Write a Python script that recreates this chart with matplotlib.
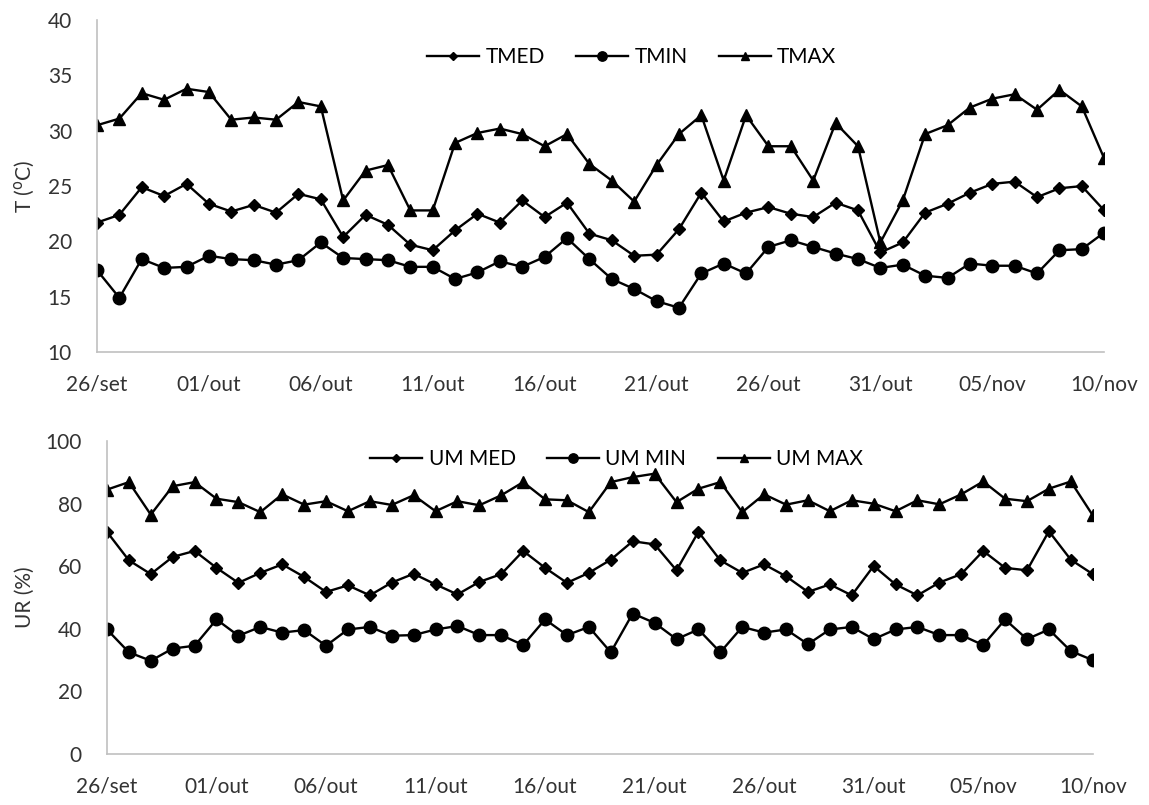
import numpy as np
import matplotlib
matplotlib.use("Agg")
import matplotlib.pyplot as plt

plt.rcParams['font.family'] = ['Lato', 'DejaVu Sans']

# 26/set .. 10/nov, one value per day
days = np.arange(46)
tick_pos = [0, 5, 10, 15, 20, 25, 30, 35, 40, 45]
tick_labels = ['26/set', '01/out', '06/out', '11/out', '16/out',
               '21/out', '26/out', '31/out', '05/nov', '10/nov']

tmed = [21.7, 22.4, 24.9, 24.1, 25.2, 23.4, 22.7, 23.3, 22.6, 24.3,
        23.8, 20.4, 22.4, 21.5, 19.7, 19.2, 21.0, 22.5, 21.7, 23.7,
        22.2, 23.5, 20.7, 20.1, 18.7, 18.8, 21.1, 24.4, 21.8, 22.6,
        23.1, 22.5, 22.2, 23.5, 22.8, 19.0, 19.9, 22.6, 23.4, 24.4,
        25.2, 25.4, 24.0, 24.8, 25.0, 22.8]
tmin = [17.4, 14.9, 18.4, 17.6, 17.7, 18.7, 18.4, 18.3, 17.9, 18.3,
        19.9, 18.5, 18.4, 18.3, 17.7, 17.7, 16.6, 17.2, 18.2, 17.7,
        18.6, 20.3, 18.4, 16.6, 15.7, 14.6, 14.0, 17.1, 18.0, 17.1,
        19.5, 20.1, 19.5, 18.9, 18.4, 17.6, 17.9, 16.9, 16.7, 18.0,
        17.8, 17.8, 17.1, 19.2, 19.3, 20.8]
tmax = [30.5, 31.1, 33.4, 32.8, 33.8, 33.5, 31.0, 31.2, 31.0, 32.6,
        32.2, 23.7, 26.4, 26.9, 22.8, 22.8, 28.9, 29.8, 30.2, 29.7,
        28.6, 29.7, 27.0, 25.5, 23.6, 26.9, 29.7, 31.4, 25.5, 31.4,
        28.6, 28.6, 25.5, 30.7, 28.6, 19.9, 23.7, 29.7, 30.5, 32.1,
        32.9, 33.3, 31.9, 33.7, 32.2, 27.5]

um_med = [71.0, 61.9, 57.5, 63.0, 64.9, 59.5, 54.7, 57.9, 60.6, 56.6,
          51.8, 53.9, 50.7, 54.8, 57.6, 54.2, 51.0, 55.0, 57.5, 64.9,
          59.5, 54.7, 57.9, 62.1, 68.0, 67.0, 58.7, 71.0, 61.9, 57.9,
          60.6, 56.8, 51.8, 54.2, 50.7, 60.1, 54.2, 50.7, 54.8, 57.5,
          64.9, 59.5, 58.7, 71.2, 62.1, 57.5]
um_min = [39.8, 32.5, 29.8, 33.7, 34.6, 43.0, 37.8, 40.6, 38.8, 39.6,
          34.6, 39.8, 40.6, 37.8, 38.0, 39.8, 40.9, 38.0, 38.0, 34.8,
          43.0, 38.0, 40.6, 32.5, 44.9, 41.9, 36.7, 39.8, 32.5, 40.6,
          38.8, 39.8, 35.1, 39.8, 40.6, 36.7, 39.8, 40.6, 38.0, 38.0,
          34.8, 43.0, 36.7, 39.8, 32.9, 30.0]
um_max = [84.5, 86.9, 76.5, 85.6, 86.9, 81.6, 80.5, 77.3, 83.0, 79.7,
          80.8, 77.6, 80.8, 79.6, 82.7, 77.6, 80.8, 79.5, 82.7, 86.9,
          81.4, 81.1, 77.3, 86.9, 88.5, 89.6, 80.5, 84.8, 86.9, 77.3,
          83.0, 79.7, 81.1, 77.6, 81.1, 80.0, 77.6, 81.1, 79.8, 83.0,
          87.1, 81.6, 80.8, 84.8, 87.1, 76.3]

FS = 15
TXT = '#333333'


def style_axes(ax):
    for s in ['top', 'right']:
        ax.spines[s].set_visible(False)
    for s in ['left', 'bottom']:
        ax.spines[s].set_color('#c0c0c0')
        ax.spines[s].set_linewidth(1.2)
    ax.tick_params(length=0, labelsize=FS, colors=TXT)
    ax.tick_params(axis='x', pad=16)
    ax.tick_params(axis='y', pad=18)
    ax.set_xticks(tick_pos)
    ax.set_xticklabels(tick_labels)
    ax.set_xlim(0, 45)


fig = plt.figure(figsize=(11.49, 8.05), dpi=100)
ax1 = fig.add_axes([0.0844, 0.5627, 0.8766, 0.4123])
ax2 = fig.add_axes([0.0931, 0.0634, 0.8579, 0.3886])

kw = dict(color='black', lw=1.7)
leg_kw = dict(loc='upper center', ncol=3, frameon=False, fontsize=FS,
              handlelength=2.5, markerscale=0.75, columnspacing=1.5,
              handletextpad=0.3)

ax1.plot(days, tmed, marker='D', ms=6, label='TMED', **kw)
ax1.plot(days, tmin, marker='o', ms=9, label='TMIN', **kw)
ax1.plot(days, tmax, marker='^', ms=8, label='TMAX', **kw)
style_axes(ax1)
ax1.set_ylim(10, 40)
ax1.set_yticks(range(10, 41, 5))
ax1.set_ylabel('T ($^{\\rm o}$C)', fontsize=FS, color=TXT, labelpad=8)
ax1.legend(bbox_to_anchor=(0.531, 0.975), **leg_kw)

ax2.plot(days, um_med, marker='D', ms=6, label='UM MED', **kw)
ax2.plot(days, um_min, marker='o', ms=9, label='UM MIN', **kw)
ax2.plot(days, um_max, marker='^', ms=8, label='UM MAX', **kw)
style_axes(ax2)
ax2.set_ylim(0, 100)
ax2.set_yticks(range(0, 101, 20))
ax2.set_ylabel('UR (%)', fontsize=FS, color=TXT, labelpad=8)
ax2.legend(bbox_to_anchor=(0.517, 1.035), **leg_kw)

fig.savefig('out.png', dpi=100)
